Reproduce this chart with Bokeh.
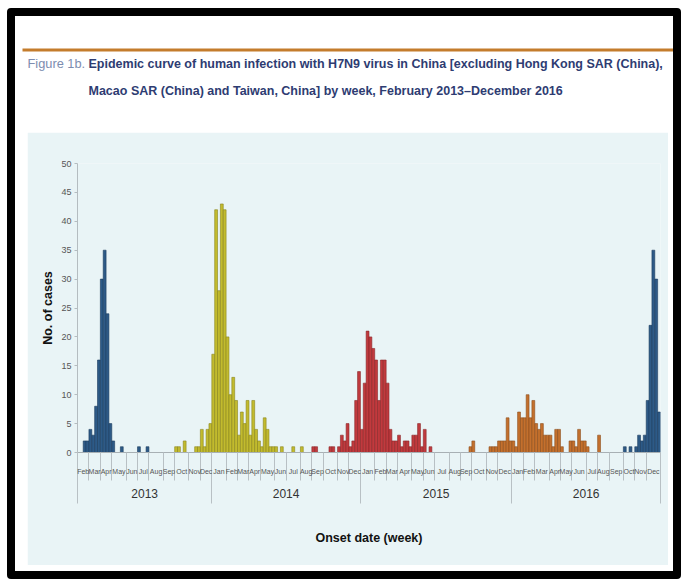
import pandas as pd
import numpy as np
from bokeh.plotting import figure
from bokeh.models import FixedTicker, LinearAxis, Label, Range1d, BoxAnnotation, Spacer, ColumnDataSource
from bokeh.layouts import column, row
from bokeh.embed import file_html
from bokeh.resources import INLINE

# ---------------- data ----------------
first_week = "2013-02-04"   # Monday of first week on the axis
n_weeks = 204

month_names = ["Jan", "Feb", "Mar", "Apr", "May", "Jun", "Jul", "Aug", "Sep", "Oct", "Nov", "Dec"]

wave1_start = "2013-02-18"
wave1_cases = [2, 2, 4, 3, 8, 16, 30, 35, 24, 5, 2, 0, 0, 1, 0, 0, 0, 0, 0, 1, 0, 0, 1]
wave2_start = "2013-09-30"
wave2_cases = [1, 1, 0, 2, 0, 0, 0, 1, 1, 4, 1, 4, 5, 17, 42, 28, 43, 42, 20, 10,
               13, 9, 3, 7, 5, 9, 3, 9, 4, 2, 1, 6, 4, 1, 1, 1, 0, 1, 0, 0, 0, 1, 0, 0, 1]
wave3_start = "2014-09-01"
wave3_cases = [1, 1, 0, 0, 0, 0, 1, 1, 0, 1, 3, 2, 5, 1, 2, 9, 14, 4, 12, 21,
               20, 18, 16, 9, 16, 16, 12, 4, 2, 2, 3, 1, 2, 2, 1, 3, 3, 5, 1, 4, 0, 1]
wave4_start = "2015-09-21"
wave4_cases = [1, 2, 0, 0, 0, 0, 0, 1, 1, 1, 2, 2, 2, 6, 2, 2, 1, 7, 6, 6,
               10, 6, 9, 5, 4, 5, 3, 3, 3, 1, 4, 4, 1, 0, 0, 2, 2, 1, 4, 2, 2, 1, 0, 0, 0, 3]
wave5_start = "2016-10-03"
wave5_cases = [1, 0, 1, 0, 1, 3, 2, 3, 9, 22, 35, 30, 7]

waves = [
    (wave1_start, wave1_cases, "#2d5a87", "#1d3d5e"),
    (wave2_start, wave2_cases, "#c2bb2e", "#8a851c"),
    (wave3_start, wave3_cases, "#c13a3e", "#8a2629"),
    (wave4_start, wave4_cases, "#c4702d", "#8c4d1c"),
    (wave5_start, wave5_cases, "#2d5a87", "#1d3d5e"),
]

# ---------------- styling ----------------
NARROW = "'Liberation Sans Narrow', 'Arial Narrow', sans-serif"
PANEL = "#e9f4f6"

BORDER = 8
OUT_W, OUT_H = 674, 571
IW, IH = OUT_W - 2 * BORDER, OUT_H - 2 * BORDER
TH = 116
BOT = 6
PH = IH - TH - BOT
PL, PR = 12, 5
PW = IW - PL - PR
FRAME_TOP, FRAME_H = 31, 289

# ---------------- week / month geometry ----------------
weeks = pd.date_range(first_week, periods=n_weeks, freq="7D")
thursdays = weeks + pd.Timedelta(days=3)
ym = list(zip(thursdays.year, thursdays.month))

month_groups = []
for i, key in enumerate(ym):
    if not month_groups or month_groups[-1][0] != key:
        month_groups.append([key, i, i])
    else:
        month_groups[-1][2] = i
month_centers = [(g[1] + g[2]) / 2 for g in month_groups]
month_bounds = [g[1] - 0.5 for g in month_groups] + [month_groups[-1][2] + 0.5]
month_labels = {c: month_names[g[0][1] - 1] for c, g in zip(month_centers, month_groups)}

year_groups = []
for i, (y, m) in enumerate(ym):
    if not year_groups or year_groups[-1][0] != y:
        year_groups.append([y, i, i])
    else:
        year_groups[-1][2] = i
year_centers = [(g[1] + g[2]) / 2 for g in year_groups]
year_bounds = [g[1] - 0.5 for g in year_groups] + [year_groups[-1][2] + 0.5]
year_labels = {c: str(g[0]) for c, g in zip(year_centers, year_groups)}

# ---------------- main chart ----------------
p = figure(width=PW, height=PH, x_range=Range1d(-0.5, n_weeks - 0.5), y_range=Range1d(0, 50),
           output_backend="svg", toolbar_location=None,
           min_border_left=50, min_border_right=8, min_border_top=FRAME_TOP,
           min_border_bottom=PH - FRAME_TOP - FRAME_H)
p.background_fill_color = PANEL
p.border_fill_color = PANEL
p.outline_line_color = None
p.grid.visible = False

for start, cases, fill, edge in waves:
    s = int((pd.Timestamp(start) - pd.Timestamp(first_week)).days // 7)
    x = np.arange(s, s + len(cases))
    top = np.array(cases)
    keep = top > 0
    src = ColumnDataSource(dict(x=x[keep], top=top[keep]))
    p.vbar(x="x", top="top", width=1.0, bottom=0, source=src,
           fill_color=fill, line_color=edge, line_width=0.6)

# y axis
yax = p.yaxis[0]
yax.ticker = FixedTicker(ticks=list(range(0, 51, 5)))
yax.axis_line_color = "#b4bcc0"
yax.major_tick_line_color = "#b4bcc0"
yax.major_tick_out = 3
yax.major_tick_in = 0
yax.minor_tick_line_color = None
yax.major_label_text_font = NARROW
yax.major_label_text_font_size = "9px"
yax.major_label_text_color = "#555555"
yax.major_label_standoff = 3
yax.axis_label = "No. of cases"
yax.axis_label_text_font = "Liberation Sans"
yax.axis_label_text_font_style = "bold"
yax.axis_label_text_font_size = "12.5px"
yax.axis_label_text_color = "#111111"
yax.axis_label_standoff = 3

# month axis
xax = p.xaxis[0]
xax.ticker = FixedTicker(ticks=month_centers, minor_ticks=month_bounds)
xax.major_label_overrides = month_labels
xax.major_tick_line_color = None
xax.major_tick_out = 0
xax.major_tick_in = 0
xax.minor_tick_line_color = "#b8c0c4"
xax.minor_tick_out = 28
xax.minor_tick_in = 0
xax.axis_line_color = "#a8b0b4"
xax.major_label_text_font = NARROW
xax.major_label_text_font_size = "7px"
xax.major_label_text_color = "#555555"
xax.major_label_standoff = -13

# year axis
yr = LinearAxis(ticker=FixedTicker(ticks=year_centers, minor_ticks=year_bounds),
                major_label_overrides=year_labels)
yr.axis_line_color = None
yr.major_tick_line_color = None
yr.major_tick_out = 0
yr.major_tick_in = 0
yr.minor_tick_line_color = "#b8c0c4"
yr.minor_tick_out = 26
yr.minor_tick_in = 0
yr.major_label_text_font = NARROW
yr.major_label_text_font_size = "12px"
yr.major_label_text_color = "#333333"
yr.major_label_standoff = -15
yr.axis_label = "Onset date (week)"
yr.axis_label_text_font = NARROW
yr.axis_label_text_font_style = "bold"
yr.axis_label_text_font_size = "12.5px"
yr.axis_label_text_color = "#111111"
yr.axis_label_standoff = 30
p.add_layout(yr, "below")

# ---------------- title block ----------------
t = figure(width=IW, height=TH, x_range=Range1d(0, IW), y_range=Range1d(TH, 0),
           output_backend="svg", toolbar_location=None, min_border=0,
           x_axis_type=None, y_axis_type=None)
t.background_fill_color = "white"
t.border_fill_color = "white"
t.outline_line_color = None
t.grid.visible = False
t.add_layout(BoxAnnotation(left=7, right=IW, top=32, bottom=35, fill_color="#c47c2c",
                           fill_alpha=1, line_color=None))
t.add_layout(Label(x=12, y=47, text="Figure 1b.", text_font=NARROW, text_font_size="12.8px",
                   text_color="#7d8db0", text_baseline="middle"))
t.add_layout(Label(x=73, y=47,
                   text="Epidemic curve of human infection with H7N9 virus in China [excluding Hong Kong SAR (China),",
                   text_font=NARROW, text_font_style="bold", text_font_size="12.5px",
                   text_color="#2e3c72", text_baseline="middle"))
t.add_layout(Label(x=73, y=74,
                   text="Macao SAR (China) and Taiwan, China] by week, February 2013\u2013December 2016",
                   text_font=NARROW, text_font_style="bold", text_font_size="12.5px",
                   text_color="#2e3c72", text_baseline="middle"))

framed = column(t, row(Spacer(width=PL), p, Spacer(width=PR)), Spacer(height=BOT),
                styles={"border": f"{BORDER}px solid black", "border-radius": "4px",
                        "background-color": "white"})
page = row(Spacer(width=7), column(Spacer(height=8), framed))

open("out.html", "w").write(file_html(page, INLINE))
